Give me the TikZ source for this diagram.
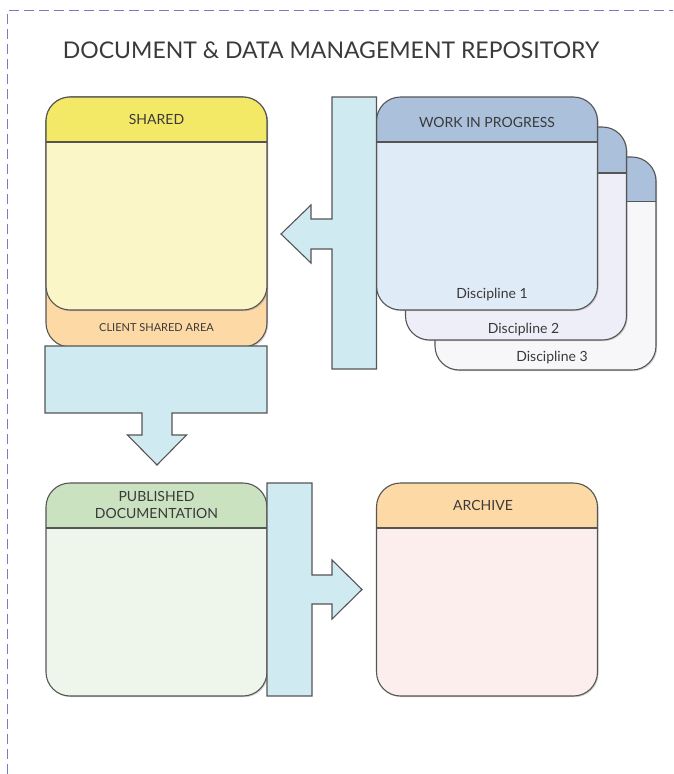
\documentclass[tikz,border=0pt]{standalone}
\usepackage{fontspec}
\setmainfont{Lato}
\usetikzlibrary{shadows}
\definecolor{edge}{HTML}{555555}
\definecolor{txt}{HTML}{3A3A3A}
\definecolor{dashc}{RGB}{120,124,198}
\definecolor{arrowfill}{HTML}{CFEBF1}
\definecolor{sharedhead}{HTML}{F4E867}
\definecolor{sharedbody}{HTML}{FBF6C8}
\definecolor{clientarea}{HTML}{FDD9A6}
\definecolor{wiphead}{HTML}{ABC1DB}
\definecolor{wipbodyA}{HTML}{DFEBF7}
\definecolor{wipbodyB}{HTML}{EEEEF8}
\definecolor{wipbodyC}{HTML}{F7F7FA}
\definecolor{pubhead}{HTML}{CBE2C1}
\definecolor{pubbody}{HTML}{EEF5EB}
\definecolor{archead}{HTML}{FDD9A6}
\definecolor{arcbody}{HTML}{FCEEEC}
\tikzset{
  boxbase/.style={draw=edge, line width=1.1pt, rounded corners=24pt, inner sep=0pt,
    minimum width=221pt, minimum height=213pt,
    drop shadow={shadow xshift=1.2pt, shadow yshift=-1.2pt, opacity=0.35}},
  panel/.style n args={3}{boxbase, fill=#2,
    path picture={
      \fill[#1, sharp corners] (path picture bounding box.north west) rectangle ([yshift=-#3pt]path picture bounding box.north east);
      \draw[edge, line width=1.1pt, sharp corners] ([yshift=-#3pt]path picture bounding box.north west) -- ([yshift=-#3pt]path picture bounding box.north east);}},
  blockarrow/.style={draw=edge, line width=1.1pt, fill=arrowfill, line join=miter},
  headlabel/.style={text=txt, inner sep=0pt, font=\fontsize{14}{17}\selectfont, align=center},
  smalllabel/.style={text=txt, inner sep=0pt, font=\fontsize{11}{13}\selectfont},
  titlelabel/.style={text=txt, inner sep=0pt, font=\fontsize{23}{27}\selectfont},
  frameline/.style={draw=dashc, line width=1.5pt, dash pattern=on 10pt off 5pt},
}
\begin{document}
\begin{tikzpicture}[x=1pt, y=-1pt]
\useasboundingbox (0,0) rectangle (673,774);
% dashed frame
\draw[frameline] (7.5,774) -- (7.5,10.5) -- (673,10.5);
% title
\node[titlelabel, anchor=base] (title) at (331,58.7) {DOCUMENT \& DATA MANAGEMENT REPOSITORY};

% shared area
\node[boxbase, fill=clientarea, minimum height=250pt] (client) at (156.5,222) {};
\node[panel={sharedhead}{sharedbody}{45}] (shared) at (156.5,203.5) {};
\node[headlabel] (sharedlbl) at ([yshift=-23pt]shared.north) {SHARED};
\node[smalllabel] (clientlbl) at ([yshift=20pt]client.south) {CLIENT SHARED AREA};

% work in progress stack
\node[panel={wiphead}{wipbodyC}{44.5}] (wip3) at (545.5,263.5) {};
\node[panel={wiphead}{wipbodyB}{46}] (wip2) at (516,233.5) {};
\node[panel={wiphead}{wipbodyA}{45}] (wip1) at (487,203.5) {};
\node[headlabel] (wiplbl) at ([yshift=-26pt]wip1.north) {WORK IN PROGRESS};
\node[headlabel, anchor=base] (d1) at (492,298.3) {Discipline 1};
\node[headlabel, anchor=base] (d2) at (523.5,333.3) {Discipline 2};
\node[headlabel, anchor=base] (d3) at (552,361) {Discipline 3};

% bar with left arrow
\draw[blockarrow] (376.5,97) -- (332,97) -- (332,219) -- (311,219) -- (311,205) -- (281,234)
  -- (311,263) -- (311,249) -- (332,249) -- (332,369) -- (376.5,369) -- cycle;

% down block arrow
\draw[blockarrow] (45,346) -- (267,346) -- (267,413) -- (172,413) -- (172,435) -- (186.5,435)
  -- (157,465) -- (127.5,435) -- (142,435) -- (142,413) -- (45,413) -- cycle;

% published and archive
\node[panel={pubhead}{pubbody}{45}] (pub) at (156.5,589.5) {};
\node[headlabel] (publbl) at ([yshift=-23pt]pub.north) {PUBLISHED\\DOCUMENTATION};
\node[panel={archead}{arcbody}{45}] (arc) at (487,589.5) {};
\node[headlabel] (arclbl) at ([yshift=-23.5pt,xshift=-4pt]arc.north) {ARCHIVE};

% bar with right arrow
\draw[blockarrow] (267,483) -- (312,483) -- (312,575) -- (332,575) -- (332,560) -- (362,589.5)
  -- (332,619) -- (332,604) -- (312,604) -- (312,696) -- (267,696) -- cycle;
\end{tikzpicture}
\end{document}
